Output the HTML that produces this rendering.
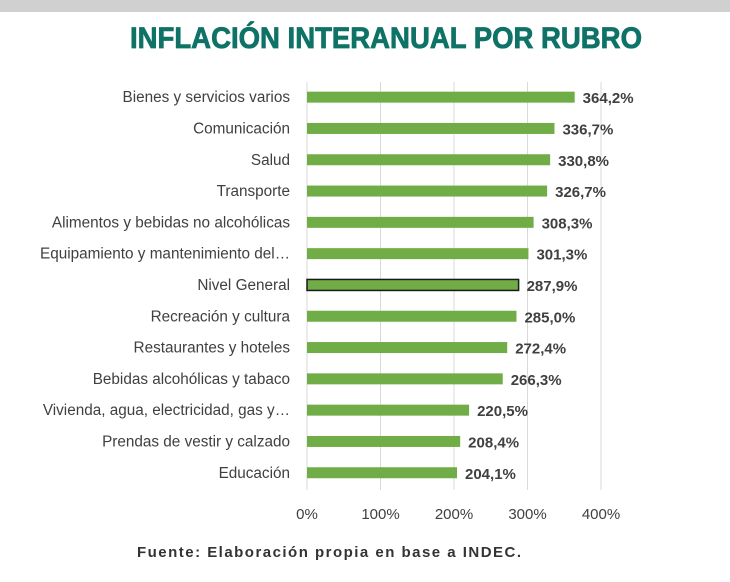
<!DOCTYPE html>
<html><head><meta charset="utf-8"><style>
body{margin:0;background:#fff;width:730px;height:577px;overflow:hidden;font-family:"Liberation Sans",sans-serif}
</style></head><body>
<svg width="730" height="577">
<rect x="0" y="0" width="730" height="12" fill="#d0d0d0"/>
<text x="386" y="48" text-anchor="middle" font-size="30" font-weight="bold" fill="#0e7266" stroke="#0e7266" stroke-width="0.8" textLength="512" lengthAdjust="spacingAndGlyphs">INFLACIÓN INTERANUAL POR RUBRO</text>
<g id="grid"></g><g id="bars"></g>
<text x="137" y="557" font-size="15" font-weight="bold" fill="#333" textLength="384">Fuente: Elaboración propia en base a INDEC.</text>
</svg>
<script>
const categories=["Bienes y servicios varios","Comunicación","Salud","Transporte","Alimentos y bebidas no alcohólicas","Equipamiento y mantenimiento del…","Nivel General","Recreación y cultura","Restaurantes y hoteles","Bebidas alcohólicas y tabaco","Vivienda, agua, electricidad, gas y…","Prendas de vestir y calzado","Educación"];
const values=[364.2,336.7,330.8,326.7,308.3,301.3,287.9,285.0,272.4,266.3,220.5,208.4,204.1];
const ticks=[0,100,200,300,400];
const tickLabels=["0%","100%","200%","300%","400%"];
const NS="http://www.w3.org/2000/svg";
const x0=307,x1=601,xmax=400;
const xs=v=>x0+(x1-x0)*v/xmax;
const yTop=81.5,step=31.3;
const yc=i=>yTop+step*(i+0.5);
const grid=document.getElementById('grid'),bars=document.getElementById('bars');
function mk(tag,attrs,parent,txt){const e=document.createElementNS(NS,tag);for(const k in attrs)e.setAttribute(k,attrs[k]);if(txt!==undefined)e.textContent=txt;parent.appendChild(e);return e;}
ticks.forEach((t,i)=>{
 const l=mk('line',{x1:xs(t),x2:xs(t),y1:82,y2:490,stroke:'#d9d9d9','stroke-width':1},grid);
 
 
 const tx=mk('text',{x:xs(t),y:519,'text-anchor':'middle','font-size':15,fill:'#404040'},grid,tickLabels[i]);
 
 
});
categories.forEach((c,i)=>{
 const y=yc(i);
 const lab=mk('text',{x:290,y:y+5,'text-anchor':'end','font-size':15.3,fill:'#404040'},bars,c);
 
 
 const isG=c==="Nivel General";
 const r=mk('rect',{x:x0,y:y-5.5,width:xs(values[i])-x0,height:11,fill:'#70ad47'},bars);
 if(isG){r.setAttribute('stroke','#1a1a1a');r.setAttribute('stroke-width','1.5');}
 
 
 const v=mk('text',{x:xs(values[i])+8,y:y+6,'font-size':15,'font-weight':'bold',fill:'#404040'},bars,values[i].toFixed(1).replace('.',',')+'%');
 
 
});
</script>
</body></html>
